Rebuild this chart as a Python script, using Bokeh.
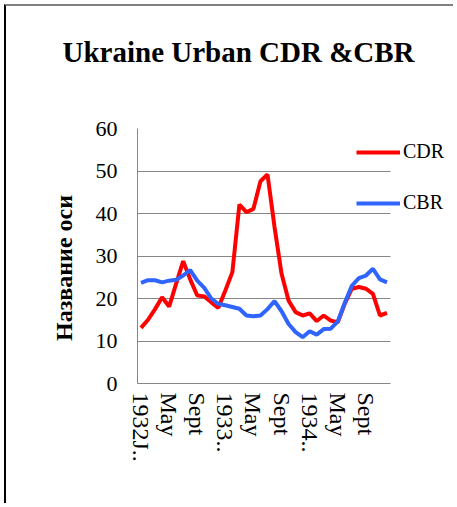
from bokeh.plotting import figure
from bokeh.models import ColumnDataSource, FixedTicker, Legend, LegendItem, Range1d, Title
from bokeh.embed import file_html
from bokeh.resources import INLINE

# ---- data ----
title_text = "Ukraine Urban CDR &CBR"
y_axis_title = "Название оси"
month_index = list(range(36))
tick_positions = [0, 4, 8, 12, 16, 20, 24, 28, 32]
tick_labels = ["1932J..", "May", "Sept", "1933..", "May", "Sept", "1934..", "May", "Sept"]
cdr = [13.1, 15.0, 17.5, 20.3, 18.1, 23.5, 28.8, 24.5, 20.7, 20.5, 19.1, 17.8,
       21.9, 26.2, 42.1, 40.3, 41.1, 47.6, 49.2, 36.8, 25.8, 19.5, 16.8, 16.0,
       16.5, 14.7, 16.0, 14.8, 14.4, 18.8, 22.3, 22.7, 22.3, 21.1, 16.0, 16.6]
cbr = [23.7, 24.3, 24.3, 23.8, 24.2, 24.4, 25.4, 26.7, 24.2, 22.5, 20.0, 18.7,
       18.4, 18.0, 17.6, 16.0, 15.8, 16.0, 17.5, 19.4, 17.0, 14.0, 12.1, 10.9,
       12.3, 11.5, 12.8, 12.9, 14.6, 19.0, 23.0, 24.8, 25.4, 27.0, 24.5, 23.8]
y_ticks = [0, 10, 20, 30, 40, 50, 60]

SERIF = "Liberation Serif"
X_START, X_END = -0.5, 35.5          # extent of the category axis
X_VIEW_END = 44.75                   # extra room on the right for the legend

src = ColumnDataSource(dict(x=month_index, cdr=cdr, cbr=cbr))

p = figure(width=449, height=499, output_backend="svg", toolbar_location=None,
           x_range=Range1d(X_START, X_VIEW_END), y_range=Range1d(0, 60),
           min_border_left=131, min_border_right=0, min_border_top=122, min_border_bottom=122,
           title=None)
p.styles = {"margin-left": "4px", "margin-top": "4px",
            "border-left": "2px solid black", "border-top": "2px solid #808080"}

# spacer between frame and title (closest to the frame), then the title itself
p.add_layout(Title(text=" ", text_font_size="1px", standoff=58), "above")
p.add_layout(Title(text=title_text, text_font=SERIF, text_font_size="29px",
                   text_font_style="bold", text_color="black",
                   align="left", offset=-75, standoff=0), "above")

r1 = p.line("x", "cdr", source=src, line_color="#FF0000", line_width=4)
r2 = p.line("x", "cbr", source=src, line_color="#2F64FF", line_width=4)

p.outline_line_color = None
p.xgrid.grid_line_color = None
grid = p.ygrid[0]
grid.ticker = FixedTicker(ticks=y_ticks)
try:
    grid.cross_bounds = (X_START, X_END)
    grid.grid_line_color = "#868686"
    grid.grid_line_width = 1
except AttributeError:
    grid.grid_line_color = None
    p.segment(x0=[X_START] * len(y_ticks), x1=[X_END] * len(y_ticks), y0=y_ticks, y1=y_ticks,
              line_color="#868686", line_width=1, level="underlay")

p.yaxis.ticker = FixedTicker(ticks=y_ticks)
p.xaxis.ticker = FixedTicker(ticks=tick_positions)
p.xaxis.bounds = (X_START, X_END)
p.xaxis.major_label_overrides = {pos: lab for pos, lab in zip(tick_positions, tick_labels)}
p.xaxis.major_label_orientation = "vertical"

for ax in (p.xaxis[0], p.yaxis[0]):
    ax.axis_line_color = "#868686"
    ax.major_tick_line_color = None
    ax.minor_tick_line_color = None
    ax.major_tick_out = 0
    ax.major_tick_in = 0
    ax.major_label_text_font = SERIF
    ax.major_label_text_color = "black"

p.yaxis.major_label_text_font_size = "22px"
p.xaxis.major_label_text_font_size = "24px"
p.yaxis.major_label_standoff = 20
p.xaxis.major_label_standoff = 9
p.yaxis.axis_label = y_axis_title + "\u00a0" * 4
p.yaxis.axis_label_text_font = SERIF
p.yaxis.axis_label_text_font_size = "24px"
p.yaxis.axis_label_text_font_style = "bold"
p.yaxis.axis_label_text_color = "black"
p.yaxis.axis_label_standoff = 16

legend = Legend(items=[LegendItem(label="CDR", renderers=[r1]),
                       LegendItem(label="CBR", renderers=[r2])],
                location=(219, 169), orientation="vertical",
                glyph_width=44, glyph_height=20, label_height=20,
                label_standoff=3, spacing=28, padding=0, margin=0,
                label_text_font=SERIF, label_text_font_size="20px",
                label_text_color="black",
                border_line_color=None, background_fill_alpha=0)
p.add_layout(legend, "center")

open("out.html", "w").write(file_html(p, INLINE))
